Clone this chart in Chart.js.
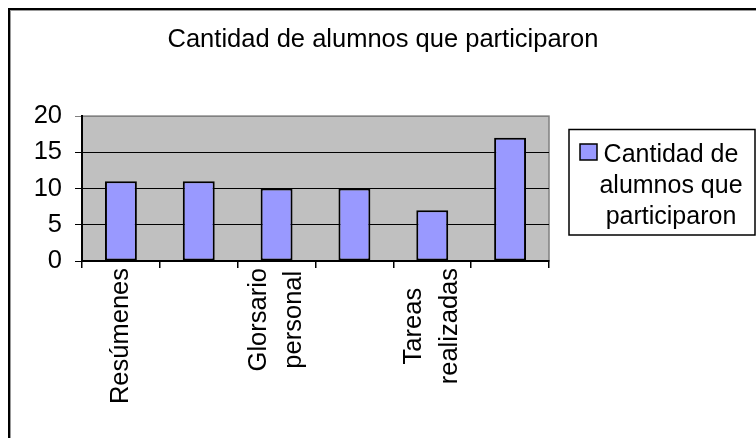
<!DOCTYPE html>
<html>
<head>
<meta charset="utf-8">
<script src="https://cdn.jsdelivr.net/npm/chart.js@4/dist/chart.umd.min.js"></script>
<style>
    html, body { margin: 0; padding: 0; background: #fff; overflow: hidden; }
    #frame {
        position: absolute; left: 8px; top: 8px; width: 900px; height: 600px;
        border: 2px solid #000; box-shadow: inset 1px 1px 0 #999;
    }
    #wrap { position: absolute; left: 0; top: 0; width: 756px; height: 438px; z-index: 1; }
</style>
</head>
<body>
<div id="frame"></div>
<div id="wrap"><canvas id="chart"></canvas></div>
<script>
const titleText = 'Cantidad de alumnos que participaron';
const seriesLines = ['Cantidad de', 'alumnos que', 'participaron'];
const categories = ['Resúmenes', '', ['Glorsario', 'personal'], '', ['Tareas', 'realizadas'], ''];
const values = [11, 11, 10, 10, 7, 17];
const yTicks = [0, 5, 10, 15, 20];

const FONT = "'Liberation Sans', Arial, sans-serif";
const barColor = '#9999FF';

// gray plot area like the old Excel charts
const plotBackground = {
    id: 'plotBackground',
    afterLayout(chart) {
        // center multi-line rotated labels on their tick, lines centered to each other
        const ctx = chart.ctx;
        chart.scales.x.getLabelItems().forEach(item => {
            const lines = [].concat(item.label);
            ctx.font = item.font.string;
            const w = Math.max(...lines.map(l => ctx.measureText(l).width));
            item.options.textAlign = 'center';
            item.options.translation[1] += w / 2;
            item.options.translation[0] -= (lines.length - 1) * item.font.lineHeight / 2;
        });
    },
    beforeDraw(chart) {
        const {ctx, chartArea: a} = chart;
        ctx.save();
        ctx.fillStyle = '#C0C0C0';
        ctx.fillRect(a.left, a.top, a.width, a.height);
        ctx.strokeStyle = '#808080';
        ctx.lineWidth = 1.5;
        ctx.strokeRect(a.left, a.top, a.width, a.height);
        ctx.restore();
    }
};

// legend box on the right, text wrapped on three lines
const sideLegend = {
    id: 'sideLegend',
    beforeInit(chart) {
        const box = {
            position: 'right', weight: 10, fullSize: false, options: {},
            left: 0, top: 0, right: 0, bottom: 0, width: 0, height: 0,
            isHorizontal() { return false; },
            update(maxW, maxH) { this.width = 207; this.height = maxH; },
            draw() {
                const ctx = chart.ctx;
                const x0 = this.left + 20;
                ctx.save();
                ctx.lineWidth = 1.5;
                ctx.strokeStyle = '#000';
                ctx.strokeRect(x0, 129.5, 186, 105.5);
                ctx.fillStyle = barColor;
                ctx.fillRect(x0 + 11, 144, 17, 16);
                ctx.strokeRect(x0 + 11, 144, 17, 16);
                ctx.fillStyle = '#000';
                ctx.font = '25px ' + FONT;
                ctx.textAlign = 'center';
                ctx.textBaseline = 'alphabetic';
                seriesLines.forEach((t, i) => ctx.fillText(t, x0 + 102, 161.5 + i * 31));
                ctx.restore();
            }
        };
        Chart.layouts.addBox(chart, box);
    }
};

new Chart(document.getElementById('chart'), {
    type: 'bar',
    data: {
        labels: categories,
        datasets: [{
            label: seriesLines.join(' '),
            data: values,
            backgroundColor: barColor,
            borderColor: '#000',
            borderWidth: 2,
            borderSkipped: false,
            barPercentage: 0.41,
            categoryPercentage: 1
        }]
    },
    options: {
        responsive: true,
        maintainAspectRatio: false,
        animation: false,
        layout: { padding: { left: 10, right: 0, top: 0, bottom: 0 } },
        plugins: {
            legend: { display: false },
            tooltip: { enabled: false },
            title: {
                display: true,
                text: titleText,
                color: '#000',
                font: { family: FONT, size: 25.5, weight: 'normal' },
                padding: { top: 24.5, bottom: 61 }
            }
        },
        scales: {
            x: {
                offset: true,
                grid: { drawOnChartArea: false, drawTicks: true, tickLength: 7, color: '#000', lineWidth: 1.5, offset: true },
                border: { color: '#000', width: 2 },
                ticks: {
                    autoSkip: false, minRotation: 90, maxRotation: 90, padding: 0,
                    color: '#000', font: { family: FONT, size: 25.5, lineHeight: 1.4 }
                },
                afterFit: s => { s.height = 177; }
            },
            y: {
                min: yTicks[0],
                max: yTicks[yTicks.length - 1],
                afterBuildTicks: s => { s.ticks = yTicks.map(v => ({ value: v })); },
                grid: {
                    color: c => c.tick && c.tick.value === yTicks[yTicks.length - 1] ? '#808080' : '#000',
                    lineWidth: 1, tickLength: 7, drawTicks: true
                },
                border: { color: '#000', width: 2 },
                ticks: { color: '#000', padding: 13, font: { family: FONT, size: 25.5 } },
                afterFit: s => { s.width = 72; }
            }
        }
    },
    plugins: [plotBackground, sideLegend]
});
</script>
</body>
</html>
